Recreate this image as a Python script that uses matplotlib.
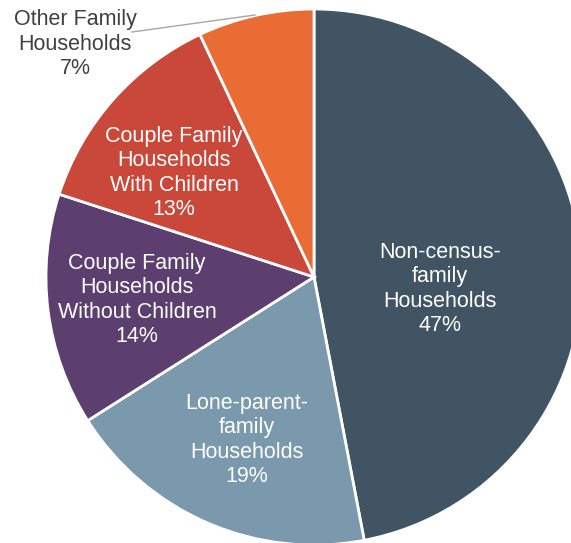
import matplotlib.pyplot as plt

plt.rcParams['font.family'] = ['Liberation Sans', 'DejaVu Sans']

labels = ['Non-census-\nfamily\nHouseholds', 'Lone-parent-\nfamily\nHouseholds',
          'Couple Family\nHouseholds\nWithout Children', 'Couple Family\nHouseholds\nWith Children',
          'Other Family\nHouseholds']
shares = [47, 19, 14, 13, 7]
colors = ['#415464', '#7A99AC', '#5C3F6E', '#C9483A', '#E96C35']

# text anchor points in pixel space (x from left, y from top)
text_pos = [(440, 289), (247, 440), (137, 300), (174, 173), (75, 44)]

W, H = 571, 543
fig = plt.figure(figsize=(W / 100, H / 100), dpi=100)
ax = fig.add_axes([0, 0, 1, 1])

cx, cy, r = 314, 277, 268
ax.pie(shares, colors=colors, startangle=90, counterclock=False,
       center=(cx, H - cy), radius=r,
       wedgeprops=dict(edgecolor='white', linewidth=2))

for i, (lab, val) in enumerate(zip(labels, shares)):
    x, y = text_pos[i]
    col = 'white' if i < 4 else '#404040'
    ax.text(x, H - y, f'{lab}\n{val}%', ha='center', va='center',
            color=col, fontsize=15.5, linespacing=1.22)

# leader line for the small slice
ax.plot([132, 255], [H - 32, H - 15], color='#A6A6A6', lw=1)

ax.set_xlim(0, W)
ax.set_ylim(0, H)
ax.set_aspect('equal')
ax.axis('off')

plt.savefig('out.png', dpi=100)
